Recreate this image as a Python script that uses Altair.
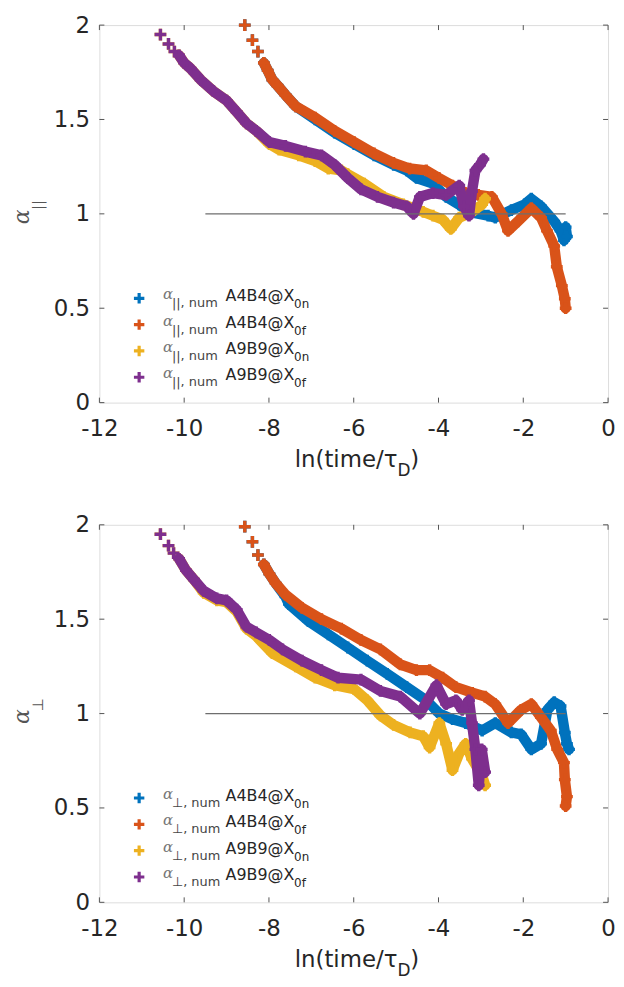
import altair as alt
import pandas as pd

# ---------------- data ----------------
x_ticks = [-12, -10, -8, -6, -4, -2, 0]
y_ticks = [0, 0.5, 1, 1.5, 2]
ref_x = [-9.5, -1.0]
ref_y = [1.0]

series_names = ["A4B4@X", "A4B4@X", "A9B9@X", "A9B9@X"]
series_subs = ["0n", "0f", "0n", "0f"]
series_colors = ["#0072BD", "#D95319", "#EDB120", "#7E2F8E"]

# top panel: alpha parallel
par_a4_0n_x = [-8.57, -8.39, -8.26, -8.12, -8.03, -7.92, -7.80, -7.61, -7.37, -6.91, -6.45, -5.99, -5.52, -5.06,
               -4.75, -4.52, -4.13, -3.82, -3.52, -3.29, -2.83, -2.66, -2.28, -1.97, -1.81, -1.58, -1.27, -1.12,
               -1.04, -1.00, -0.97]
par_a4_0n_y = [2.00, 1.92, 1.86, 1.80, 1.76, 1.71, 1.68, 1.63, 1.57, 1.50, 1.43, 1.37, 1.31, 1.26,
               1.23, 1.19, 1.16, 1.09, 1.05, 1.01, 0.99, 0.98, 1.02, 1.05, 1.08, 1.04, 0.96, 0.91,
               0.86, 0.93, 0.88]
par_a4_0f_x = [-8.57, -8.39, -8.26, -8.12, -8.03, -7.92, -7.80, -7.61, -7.37, -6.91, -6.45, -5.99, -5.52, -5.06,
               -4.68, -4.29, -3.99, -3.67, -3.36, -3.06, -2.74, -2.51, -2.36, -2.13, -1.81, -1.58, -1.44, -1.27,
               -1.21, -1.09, -1.02, -1.00]
par_a4_0f_y = [2.00, 1.92, 1.86, 1.80, 1.76, 1.71, 1.68, 1.63, 1.57, 1.51, 1.44, 1.38, 1.32, 1.27,
               1.24, 1.23, 1.19, 1.15, 1.11, 1.10, 1.09, 1.00, 0.91, 0.96, 1.03, 0.98, 0.91, 0.83,
               0.72, 0.62, 0.55, 0.50]
par_a9_0n_x = [-10.56, -10.37, -10.23, -10.12, -10.00, -9.85, -9.61, -9.31, -9.00, -8.76, -8.53, -8.30, -7.99,
               -7.76, -7.30, -6.91, -6.60, -6.29, -6.14, -5.75, -5.29, -4.83, -4.36, -4.13, -3.90, -3.71, -3.51,
               -3.21, -2.97, -2.90]
par_a9_0n_y = [1.95, 1.90, 1.86, 1.84, 1.80, 1.77, 1.71, 1.65, 1.60, 1.54, 1.48, 1.44, 1.37,
               1.34, 1.31, 1.28, 1.24, 1.23, 1.21, 1.16, 1.09, 1.05, 1.01, 0.99, 0.97, 0.92, 0.98,
               1.01, 1.05, 1.08]
par_a9_0f_x = [-10.56, -10.37, -10.23, -10.12, -10.00, -9.85, -9.61, -9.31, -9.00, -8.76, -8.53, -8.30, -7.99,
               -7.61, -7.14, -6.76, -6.45, -6.14, -5.83, -5.44, -5.06, -4.75, -4.59, -4.44, -4.13, -3.82, -3.51,
               -3.40, -3.28, -3.21, -3.13, -3.02, -2.94]
par_a9_0f_y = [1.95, 1.90, 1.86, 1.84, 1.80, 1.77, 1.71, 1.65, 1.60, 1.54, 1.48, 1.44, 1.38,
               1.36, 1.33, 1.31, 1.26, 1.19, 1.13, 1.09, 1.06, 1.04, 1.00, 1.09, 1.11, 1.10, 1.15,
               1.04, 0.99, 1.12, 1.23, 1.26, 1.29]

# bottom panel: alpha perpendicular
perp_a4_0n_x = [-8.57, -8.39, -8.26, -8.12, -7.99, -7.84, -7.61, -7.53, -7.07, -6.60, -6.14, -5.68, -5.21, -4.75,
                -4.29, -3.98, -3.67, -3.36, -2.97, -2.66, -2.28, -2.05, -1.81, -1.58, -1.43, -1.27, -1.12, -1.02,
                -0.97, -0.92]
perp_a4_0n_y = [1.99, 1.91, 1.84, 1.79, 1.74, 1.69, 1.62, 1.58, 1.49, 1.42, 1.35, 1.28, 1.21, 1.14,
                1.07, 1.00, 0.97, 0.95, 0.91, 0.95, 0.90, 0.89, 0.81, 0.84, 1.02, 1.06, 1.04, 0.90,
                0.84, 0.81]
perp_a4_0f_x = [-8.57, -8.39, -8.26, -8.12, -7.99, -7.84, -7.61, -7.22, -6.76, -6.29, -5.83, -5.37, -4.90, -4.52,
                -4.21, -3.90, -3.59, -3.20, -2.90, -2.66, -2.36, -2.05, -1.81, -1.58, -1.35, -1.20, -1.04, -1.02,
                -0.97, -1.00]
perp_a4_0f_y = [1.99, 1.91, 1.84, 1.79, 1.74, 1.69, 1.63, 1.56, 1.50, 1.45, 1.39, 1.34, 1.26, 1.23,
                1.23, 1.19, 1.14, 1.11, 1.09, 1.05, 0.95, 1.02, 1.05, 0.98, 0.91, 0.81, 0.74, 0.65,
                0.56, 0.51]
perp_a9_0n_x = [-10.56, -10.37, -10.25, -10.12, -9.96, -9.77, -9.54, -9.23, -9.00, -8.76, -8.53, -8.30, -7.92,
                -7.37, -6.91, -6.45, -5.99, -5.68, -5.37, -5.06, -4.67, -4.36, -4.21, -3.98, -3.82, -3.67, -3.51,
                -3.36, -3.21, -2.97, -2.90]
perp_a9_0n_y = [1.95, 1.89, 1.85, 1.82, 1.76, 1.71, 1.64, 1.60, 1.59, 1.54, 1.45, 1.41, 1.32,
                1.25, 1.19, 1.15, 1.13, 1.07, 0.99, 0.94, 0.90, 0.88, 0.82, 0.95, 0.84, 0.70, 0.79,
                0.84, 0.76, 0.67, 0.62]
perp_a9_0f_x = [-10.56, -10.37, -10.25, -10.12, -9.96, -9.77, -9.54, -9.23, -9.00, -8.76, -8.53, -8.30, -7.99,
                -7.68, -7.22, -6.76, -6.37, -5.83, -5.37, -4.90, -4.44, -4.05, -3.82, -3.59, -3.44, -3.28, -3.21,
                -3.13, -3.05, -2.98, -2.90]
perp_a9_0f_y = [1.95, 1.89, 1.85, 1.82, 1.76, 1.71, 1.65, 1.61, 1.60, 1.55, 1.46, 1.43, 1.39,
                1.34, 1.28, 1.23, 1.19, 1.18, 1.12, 1.09, 1.00, 1.15, 1.05, 1.07, 1.02, 1.07, 0.95,
                0.81, 0.62, 0.81, 0.69]

# ---------------- styling / layout ----------------
W, H = 512, 380
FONT = "DejaVu Sans"
TXT = "#262626"
PLUS = "M-1,0L1,0M0,-1L0,1"

x_axis = alt.Axis(values=x_ticks, labelExpr="'' + datum.value", title=None, domain=False, ticks=False,
                  grid=False, labelFont=FONT, labelFontSize=23, labelColor=TXT, labelPadding=15,
                  labelFlush=False, labelOverlap=False)
y_axis = alt.Axis(values=y_ticks, labelExpr="'' + datum.value", title=None, domain=False, ticks=False,
                  grid=False, labelFont=FONT, labelFontSize=23, labelColor=TXT, labelPadding=10,
                  labelFlush=False, labelOverlap=False)
x_scale = alt.Scale(domain=[-12, 0], nice=False, zero=False)
y_scale = alt.Scale(domain=[0, 2], nice=False, zero=False)


def X(field="x"):
    return alt.X(f"{field}:Q", scale=x_scale, axis=x_axis)


def Y(field="y"):
    return alt.Y(f"{field}:Q", scale=y_scale, axis=y_axis)


def text_layer(txt, x, y, size, color=TXT, font=FONT, style="normal", align="left", angle=0,
               baseline="alphabetic"):
    df = pd.DataFrame({"t": [txt]})
    return alt.Chart(df).mark_text(font=font, fontSize=size, fontStyle=style, color=color, align=align,
                                   baseline=baseline, angle=angle).encode(
        x=alt.value(x), y=alt.value(y), text="t:N")


def panel(series_xy, sub_sym):
    layers = []
    for (xs, ys), color in zip(series_xy, series_colors):
        df = pd.DataFrame({"x": xs, "y": ys, "i": list(range(len(xs)))})
        layers.append(
            alt.Chart(df).transform_filter("datum.i >= 3").mark_line(
                color=color, strokeWidth=10.5, strokeCap="round", strokeJoin="round").encode(
                x=X(), y=Y(), order="i:Q"))
        layers.append(
            alt.Chart(df).mark_point(shape=PLUS, filled=False, color=color, strokeWidth=3.4, size=140,
                                     opacity=1).encode(x=X(), y=Y()))
    # reference line at alpha = 1
    ref_df = pd.DataFrame({"x": [ref_x[0]], "x2": [ref_x[1]], "y": ref_y})
    layers.append(alt.Chart(ref_df).mark_rule(color="#6e6e6e", strokeWidth=1.2).encode(
        x=X(), x2="x2:Q", y=Y()))
    # inward ticks on all four sides
    xt = pd.DataFrame({"x": x_ticks})
    yt = pd.DataFrame({"y": y_ticks})
    tick_col = "#555555"
    layers.append(alt.Chart(xt).mark_rule(color=tick_col).encode(x=X(), y=alt.value(H), y2=alt.value(H - 5)))
    layers.append(alt.Chart(xt).mark_rule(color=tick_col).encode(x=X(), y=alt.value(0), y2=alt.value(5)))
    layers.append(alt.Chart(yt).mark_rule(color=tick_col).encode(y=Y(), x=alt.value(0), x2=alt.value(5)))
    layers.append(alt.Chart(yt).mark_rule(color=tick_col).encode(y=Y(), x=alt.value(W), x2=alt.value(W - 5)))
    # x title  ln(time/tau_D)
    layers.append(text_layer("ln(time/τ", 300, H + 65, 23, align="right"))
    layers.append(text_layer("D", 300, H + 74, 17))
    layers.append(text_layer(")", 313, H + 65, 23))
    # y title  alpha_sub
    layers.append(text_layer("α", -78, 193, 22, color="#555555", font="DejaVu Serif", style="italic",
                             align="center", angle=270, baseline="middle"))
    layers.append(text_layer(sub_sym, -62, 181, 15, color="#555555", align="center", angle=270,
                             baseline="middle"))
    # legend
    for i, (nm, sb, color) in enumerate(zip(series_names, series_subs, series_colors)):
        r = 275 + i * 26.5
        mdf = pd.DataFrame({"k": [nm + sb]})
        layers.append(alt.Chart(mdf).mark_point(shape=PLUS, filled=False, color=color, strokeWidth=3.2,
                                                size=110, opacity=1).encode(x=alt.value(40), y=alt.value(r)))
        layers.append(text_layer("α", 64, r + 1, 15, color="#777777", font="DejaVu Serif", style="italic"))
        layers.append(text_layer(sub_sym + ", num", 73, r + 9, 13, color="#444444"))
        layers.append(text_layer(nm, 127, r + 3, 16))
        layers.append(text_layer(sb, 196, r + 10, 12))
    return alt.layer(*layers).properties(width=W, height=H)


top = panel([(par_a4_0n_x, par_a4_0n_y), (par_a4_0f_x, par_a4_0f_y),
             (par_a9_0n_x, par_a9_0n_y), (par_a9_0f_x, par_a9_0f_y)], "||")
bottom = panel([(perp_a4_0n_x, perp_a4_0n_y), (perp_a4_0f_x, perp_a4_0f_y),
                (perp_a9_0n_x, perp_a9_0n_y), (perp_a9_0f_x, perp_a9_0f_y)], "⊥")

chart = alt.vconcat(top, bottom, spacing=33).properties(
    padding={"left": 2, "top": 0, "right": 0, "bottom": 0}
).configure_view(stroke="#555555", strokeWidth=1).configure(background="white")

chart.save("out.html", embed_options={"renderer": "svg", "actions": False})
